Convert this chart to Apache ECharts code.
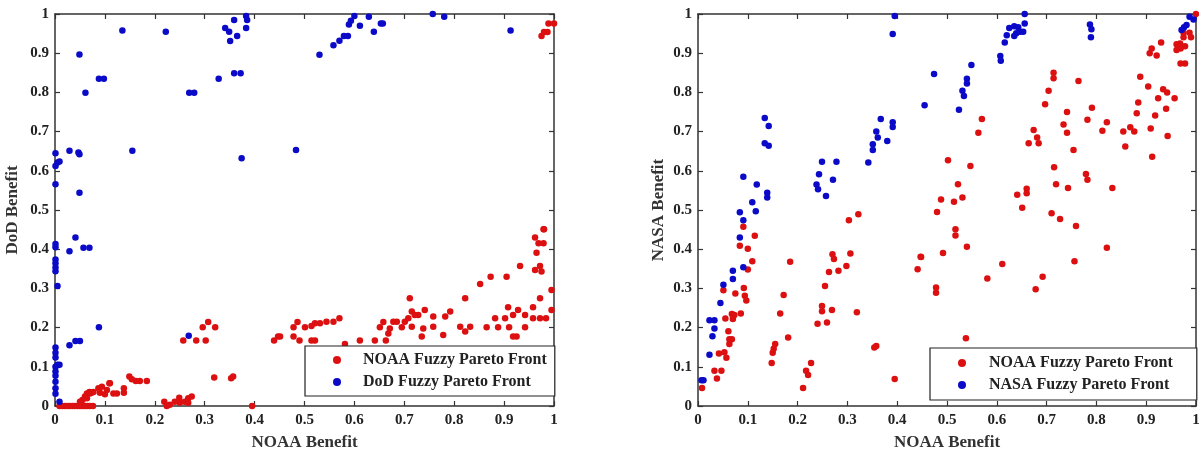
<!DOCTYPE html>
<html>
<head>
<meta charset="utf-8">
<script src="https://cdn.jsdelivr.net/npm/echarts@6/dist/echarts.min.js"></script>
<style>
html,body{margin:0;padding:0;background:#fff;}
#chart{width:1199px;height:453px;}
</style>
</head>
<body>
<div id="chart"></div>
<script>
// ---- data (NOAA benefit, other agency benefit) ----
const tickValues = [0, 0.1, 0.2, 0.3, 0.4, 0.5, 0.6, 0.7, 0.8, 0.9, 1];
const xTitle = 'NOAA Benefit';
const leftYTitle = 'DoD Benefit';
const rightYTitle = 'NASA Benefit';
const noaaName = 'NOAA Fuzzy Pareto Front';
const dodName = 'DoD Fuzzy Pareto Front';
const nasaName = 'NASA Fuzzy Pareto Front';

const dodFront = [
  [0.135,0.958],[0.222,0.955],[0.049,0.897],[0.088,0.835],[0.098,0.835],[0.061,0.799],
  [0.269,0.799],[0.279,0.799],[0.328,0.835],[0.341,0.964],[0.349,0.955],[0.351,0.931],
  [0.359,0.985],[0.365,0.944],[0.359,0.849],[0.372,0.849],[0.383,0.995],[0.385,0.985],
  [0.383,0.964],[0.374,0.632],[0.483,0.653],[0.155,0.651],[0.029,0.651],[0.001,0.645],
  [0.009,0.624],[0.005,0.621],[0.001,0.612],[0.001,0.566],[0.047,0.647],[0.049,0.642],
  [0.049,0.544],[0.530,0.896],[0.558,0.920],[0.570,0.932],[0.579,0.944],[0.587,0.944],
  [0.589,0.973],[0.593,0.983],[0.600,0.995],[0.611,0.970],[0.629,0.993],[0.639,0.955],
  [0.653,0.976],[0.657,0.976],[0.757,1.000],[0.780,0.993],[0.913,0.958],
  [0.001,0.413],[0.001,0.405],[0.001,0.374],[0.001,0.364],[0.001,0.353],[0.001,0.344],
  [0.005,0.306],[0.029,0.395],[0.041,0.430],[0.057,0.404],[0.069,0.404],[0.088,0.201],
  [0.029,0.155],[0.041,0.166],[0.050,0.166],[0.268,0.179],
  [0.001,0.149],[0.001,0.136],[0.001,0.124],[0.009,0.105],[0.005,0.105],[0.001,0.100],
  [0.001,0.088],[0.001,0.077],[0.001,0.062],[0.001,0.045],[0.001,0.031],[0.009,0.011]
];

const noaaVsDod = [
  [0.975,0.944],[0.980,0.954],[0.987,0.954],[0.989,0.976],[1.000,0.976],[0.980,0.451],
  [0.009,0.0],[0.015,0.0],[0.020,0.0],[0.025,0.0],[0.030,0.0],[0.035,0.0],[0.040,0.0],
  [0.045,0.0],[0.050,0.0],[0.055,0.0],[0.060,0.0],[0.065,0.0],[0.070,0.0],[0.076,0.0],
  [0.050,0.011],[0.055,0.015],[0.060,0.024],[0.064,0.032],[0.069,0.036],[0.073,0.034],
  [0.064,0.020],[0.070,0.032],[0.077,0.036],[0.087,0.045],[0.094,0.049],[0.104,0.041],
  [0.110,0.058],[0.117,0.032],[0.124,0.032],[0.090,0.034],[0.100,0.030],[0.109,0.058],
  [0.138,0.045],[0.138,0.034],[0.149,0.075],[0.154,0.068],[0.162,0.064],[0.170,0.064],
  [0.184,0.064],
  [0.219,0.011],[0.224,0.0],[0.230,0.003],[0.240,0.011],[0.249,0.021],[0.250,0.008],
  [0.260,0.011],[0.267,0.020],[0.274,0.024],[0.267,0.008],
  [0.257,0.167],[0.283,0.167],[0.296,0.201],[0.307,0.214],[0.321,0.201],[0.302,0.167],
  [0.319,0.073],[0.353,0.071],[0.357,0.075],[0.395,0.0],[0.439,0.167],[0.447,0.177],
  [0.451,0.177],[0.478,0.201],[0.486,0.214],[0.478,0.177],[0.490,0.167],
  [0.501,0.201],[0.514,0.204],[0.521,0.211],[0.531,0.211],[0.544,0.215],[0.558,0.215],
  [0.570,0.224],[0.514,0.167],[0.521,0.167],[0.581,0.158],[0.611,0.167],[0.641,0.167],
  [0.663,0.167],[0.651,0.201],[0.658,0.214],[0.668,0.185],[0.671,0.198],[0.678,0.215],
  [0.685,0.215],[0.695,0.201],[0.701,0.215],[0.708,0.224],[0.715,0.241],[0.711,0.275],
  [0.715,0.202],[0.721,0.232],[0.728,0.232],[0.735,0.177],[0.741,0.245],[0.738,0.198],
  [0.758,0.228],[0.758,0.202],[0.778,0.181],[0.782,0.228],[0.792,0.241],[0.812,0.202],
  [0.822,0.275],[0.822,0.190],[0.832,0.202],[0.852,0.311],[0.865,0.201],[0.873,0.330],
  [0.882,0.224],[0.888,0.201],[0.905,0.330],[0.902,0.224],[0.908,0.252],[0.910,0.201],
  [0.918,0.232],[0.918,0.177],[0.925,0.177],[0.928,0.245],[0.942,0.232],[0.942,0.201],
  [0.932,0.357],[0.958,0.252],[0.958,0.224],[0.965,0.391],[0.962,0.430],[0.969,0.415],
  [0.979,0.451],[0.979,0.415],[0.972,0.357],[0.975,0.343],[0.962,0.347],[0.972,0.275],
  [0.972,0.224],[0.984,0.224],[0.995,0.245],[0.995,0.296]
];

const nasaFront = [
  [0.395,0.995],[0.391,0.949],[0.455,0.767],[0.134,0.735],[0.142,0.714],[0.134,0.670],
  [0.142,0.664],[0.139,0.544],[0.139,0.532],[0.091,0.585],[0.118,0.565],[0.109,0.520],
  [0.116,0.497],[0.084,0.494],[0.091,0.474],[0.249,0.623],[0.278,0.623],[0.243,0.591],
  [0.238,0.565],[0.241,0.553],[0.257,0.536],[0.271,0.577],[0.342,0.621],[0.351,0.653],
  [0.351,0.668],[0.358,0.700],[0.361,0.685],[0.367,0.732],[0.380,0.676],[0.391,0.724],
  [0.391,0.712],
  [0.656,1.000],[0.656,0.976],[0.625,0.964],[0.635,0.969],[0.643,0.966],[0.647,0.955],
  [0.653,0.955],[0.639,0.951],[0.635,0.944],[0.620,0.946],[0.616,0.927],[0.607,0.893],
  [0.608,0.881],[0.549,0.870],[0.540,0.835],[0.540,0.823],[0.531,0.804],[0.534,0.791],
  [0.474,0.847],[0.524,0.756],[0.787,0.973],[0.790,0.961],[0.789,0.941],[0.987,0.993],
  [0.995,0.986],[0.981,0.972],[0.976,0.966],[0.971,0.959],
  [0.084,0.430],[0.091,0.354],[0.070,0.345],[0.070,0.324],[0.051,0.309],[0.045,0.263],
  [0.023,0.219],[0.033,0.219],[0.033,0.198],[0.029,0.178],[0.023,0.131],[0.007,0.066],
  [0.011,0.066]
];

const noaaVsNasa = [
  [0.091,0.457],[0.303,0.474],[0.322,0.489],
  [1.000,1.000],[0.975,0.952],[0.987,0.952],[0.975,0.941],[0.990,0.941],[0.961,0.923],
  [0.968,0.925],[0.971,0.917],[0.978,0.918],[0.961,0.908],[0.969,0.912],[0.969,0.874],
  [0.978,0.874],[0.930,0.927],[0.911,0.912],[0.907,0.900],[0.921,0.894],[0.888,0.840],
  [0.904,0.815],[0.934,0.808],[0.942,0.800],[0.924,0.785],[0.957,0.785],[0.884,0.774],
  [0.881,0.747],[0.940,0.758],[0.918,0.741],[0.868,0.711],[0.876,0.700],[0.854,0.700],
  [0.909,0.708],[0.943,0.689],[0.858,0.662],[0.912,0.636],[0.821,0.724],[0.812,0.702],
  [0.791,0.761],[0.782,0.730],[0.764,0.829],[0.714,0.850],[0.714,0.836],[0.704,0.804],
  [0.697,0.770],[0.741,0.750],[0.734,0.718],[0.741,0.697],[0.754,0.653],[0.674,0.704],
  [0.681,0.685],[0.684,0.670],[0.664,0.670],[0.715,0.609],[0.719,0.566],[0.743,0.556],
  [0.779,0.592],[0.782,0.577],[0.832,0.556],[0.660,0.554],[0.660,0.543],[0.641,0.539],
  [0.651,0.506],[0.710,0.492],[0.727,0.477],[0.759,0.459],[0.570,0.732],[0.563,0.697],
  [0.502,0.627],[0.547,0.612],[0.522,0.566],[0.531,0.532],[0.488,0.527],[0.514,0.521],
  [0.480,0.495],[0.517,0.451],
  [0.517,0.435],[0.540,0.406],[0.448,0.380],[0.492,0.390],[0.441,0.349],[0.611,0.362],
  [0.581,0.325],[0.692,0.330],[0.678,0.298],[0.756,0.369],[0.821,0.404],[0.478,0.302],
  [0.478,0.289],[0.538,0.173],
  [0.084,0.409],[0.114,0.434],[0.100,0.401],[0.109,0.369],[0.100,0.348],[0.092,0.301],
  [0.094,0.281],[0.097,0.269],[0.075,0.287],[0.051,0.295],[0.086,0.236],[0.068,0.235],
  [0.073,0.232],[0.055,0.223],[0.070,0.222],[0.061,0.191],[0.063,0.170],[0.068,0.170],
  [0.063,0.158],[0.053,0.137],[0.057,0.123],[0.042,0.134],[0.033,0.090],[0.047,0.090],
  [0.038,0.070],[0.008,0.046],
  [0.185,0.368],[0.172,0.283],[0.165,0.236],[0.181,0.175],[0.155,0.158],[0.152,0.146],
  [0.150,0.136],[0.148,0.110],[0.227,0.110],[0.217,0.090],[0.221,0.079],[0.211,0.046],
  [0.240,0.210],[0.249,0.255],[0.249,0.242],[0.259,0.213],[0.255,0.306],[0.269,0.245],
  [0.263,0.342],[0.270,0.387],[0.273,0.375],[0.282,0.345],[0.298,0.357],[0.306,0.389],
  [0.319,0.239],[0.354,0.149],[0.358,0.153],[0.395,0.069],[0.447,0.381]
];

// ---- styling ----
const RED = '#dc1010';
const BLUE = '#0a0ac8';
const AXIS_COLOR = '#333';
const SERIF = '"Liberation Serif", "DejaVu Serif", serif';

const grids = [
  {left: 55, top: 14, width: 499, height: 392, outerBoundsMode: 'none', containLabel: false},
  {left: 698, top: 14, width: 498, height: 392, outerBoundsMode: 'none', containLabel: false}
];

function mkX(gi, pos, showLabels) {
  return {
    type: 'value', gridIndex: gi, position: pos, min: 0, max: 1, interval: 0.1,
    name: showLabels ? xTitle : '', nameLocation: 'middle', nameGap: 28,
    nameTextStyle: {fontFamily: SERIF, fontWeight: 'bold', fontSize: 17, color: '#333'},
    axisLine: {show: true, onZero: false, lineStyle: {color: AXIS_COLOR, width: 1.5}},
    axisTick: {show: true, inside: true, length: 5, lineStyle: {color: AXIS_COLOR, width: 1.2}},
    axisLabel: {show: showLabels, margin: 7, fontFamily: SERIF, fontWeight: 'bold', fontSize: 15, color: '#222'},
    splitLine: {show: false}
  };
}
function mkY(gi, pos, showLabels, title, gap) {
  return {
    type: 'value', gridIndex: gi, position: pos, min: 0, max: 1, interval: 0.1,
    name: showLabels ? title : '', nameLocation: 'middle', nameGap: gap,
    nameTextStyle: {fontFamily: SERIF, fontWeight: 'bold', fontSize: 17, color: '#333'},
    axisLine: {show: true, onZero: false, lineStyle: {color: AXIS_COLOR, width: 1.5}},
    axisTick: {show: true, inside: true, length: 5, lineStyle: {color: AXIS_COLOR, width: 1.2}},
    axisLabel: {show: showLabels, margin: 6, fontFamily: SERIF, fontWeight: 'bold', fontSize: 15, color: '#222'},
    splitLine: {show: false}
  };
}

function mkScatter(name, data, color, xi, yi) {
  return {
    type: 'scatter', name: name, data: data, xAxisIndex: xi, yAxisIndex: yi,
    symbol: 'circle', symbolSize: 6.5, clip: false,
    itemStyle: {color: color, opacity: 1},
    emphasis: {disabled: true}, animation: false
  };
}

function mkLegend(left, top, names, pad, textPad) {
  return {
    left: left, top: top, orient: 'vertical', data: names,
    icon: 'circle', itemWidth: 8, itemHeight: 8, itemGap: 6,
    padding: pad, borderColor: '#222', borderWidth: 1.2, backgroundColor: '#fff',
    selectedMode: false,
    textStyle: {fontFamily: SERIF, fontWeight: 'bold', fontSize: 16, color: '#222',
      lineHeight: 16, padding: [0, 0, 0, textPad]}
  };
}

const chart = echarts.init(document.getElementById('chart'), null, {renderer: 'canvas'});
chart.setOption({
  backgroundColor: '#fff',
  animation: false,
  grid: grids,
  xAxis: [mkX(0, 'bottom', true), mkX(0, 'top', false), mkX(1, 'bottom', true), mkX(1, 'top', false)],
  yAxis: [mkY(0, 'left', true, leftYTitle, 34), mkY(0, 'right', false, '', 0),
          mkY(1, 'left', true, rightYTitle, 31), mkY(1, 'right', false, '', 0)],
  legend: [
    mkLegend(305, 346, [noaaName, dodName], [6, 8, 6, 28], 17),
    mkLegend(930, 348, [noaaName, nasaName], [7, 24, 7, 28], 18)
  ],
  series: [
    mkScatter(noaaName, noaaVsDod, RED, 0, 0),
    mkScatter(dodName, dodFront, BLUE, 0, 0),
    mkScatter(noaaName, noaaVsNasa, RED, 2, 2),
    mkScatter(nasaName, nasaFront, BLUE, 2, 2)
  ]
});
</script>
</body>
</html>
